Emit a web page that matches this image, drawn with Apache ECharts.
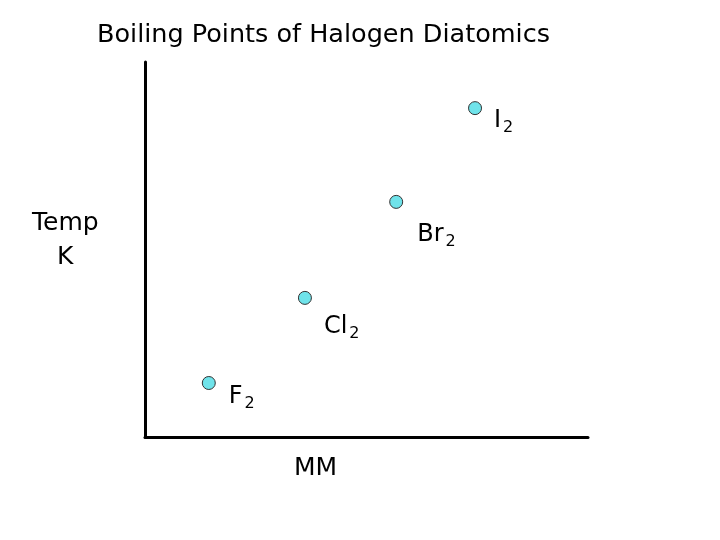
<!DOCTYPE html>
<html>
<head>
<meta charset="utf-8">
<script src="https://cdn.jsdelivr.net/npm/echarts@6/dist/echarts.min.js"></script>
<style>
  html, body { margin: 0; padding: 0; background: #fff; }
  #chart { width: 720px; height: 540px; }
</style>
</head>
<body>
<div id="chart"></div>
<script>
// schematic values (arbitrary 0-100 units)
var elements = ['F', 'Cl', 'Br', 'I'];
var molarMass = [14.4, 36.1, 56.7, 74.5];
var boilingPoint = [14.4, 37.1, 62.7, 87.7];

var font = '"DejaVu Sans", sans-serif';
// label offsets next to each dot
var labelOffsets = [[13, 14], [12, 29], [14, 33], [12, 13]];

var chart = echarts.init(document.getElementById('chart'));

var points = elements.map(function (el, i) {
    return {
        value: [molarMass[i], boilingPoint[i]],
        name: el,
        label: { offset: labelOffsets[i] }
    };
});

var option = {
    backgroundColor: '#fff',
    animation: false,
    title: {
        text: 'Boiling Points of Halogen Diatomics',
        left: 92,
        top: 17,
        textStyle: { fontFamily: font, fontSize: 25.5, fontWeight: 'normal', color: '#000' }
    },
    grid: { left: 145, top: 62, right: 132, bottom: 103 },
    xAxis: {
        type: 'value',
        min: 0,
        max: 100,
        axisLine: { show: true, lineStyle: { color: '#000', width: 3 } },
        axisTick: { show: false },
        axisLabel: { show: false },
        splitLine: { show: false }
    },
    yAxis: {
        type: 'value',
        min: 0,
        max: 100,
        axisLine: { show: true, lineStyle: { color: '#000', width: 3 } },
        axisTick: { show: false },
        axisLabel: { show: false },
        splitLine: { show: false }
    },
    graphic: [
        {
            type: 'text',
            left: 32,
            top: 211,
            style: { text: 'Temp', font: '25px ' + font, fill: '#000' }
        },
        {
            type: 'text',
            left: 57,
            top: 245,
            style: { text: 'K', font: '25px ' + font, fill: '#000' }
        },
        {
            type: 'text',
            left: 294,
            top: 456,
            style: { text: 'MM', font: '25px ' + font, fill: '#000' }
        }
    ],
    series: [{
        type: 'scatter',
        data: points,
        symbolSize: 13,
        itemStyle: { color: '#6fe3ea', borderColor: '#333', borderWidth: 1, opacity: 1 },
        label: {
            show: true,
            position: 'right',
            distance: 0,
            formatter: function (p) { return '{m|' + p.name + '}{s|2}'; },
            rich: {
                m: { fontFamily: font, fontSize: 24, color: '#000', lineHeight: 26 },
                s: { fontFamily: font, fontSize: 16, color: '#000', lineHeight: 26, padding: [14, 0, 0, 2] }
            }
        }
    }]
};

chart.setOption(option);
</script>
</body>
</html>
